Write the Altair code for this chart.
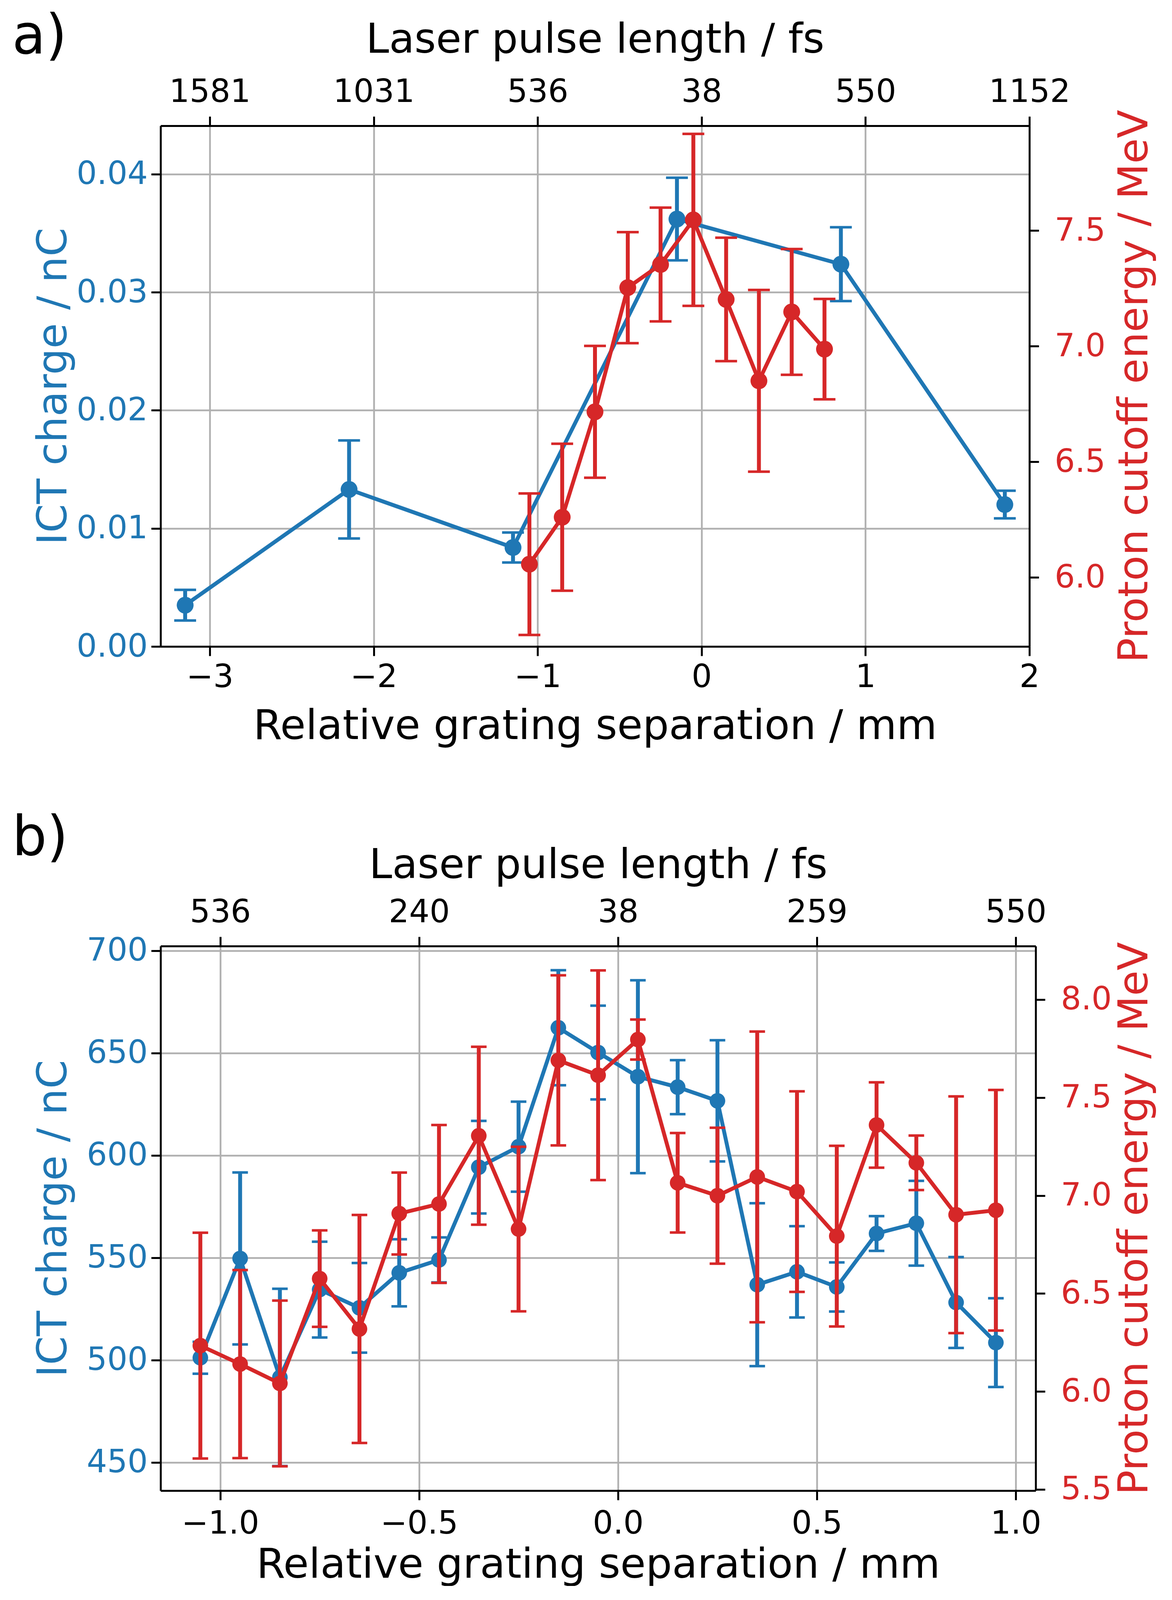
import altair as alt
import pandas as pd

# ---------------- data ----------------
# panel a)
A_BLUE_X = [-3.15, -2.15, -1.15, -0.15, 0.85, 1.85]
A_BLUE_Y = [0.00350, 0.01330, 0.00838, 0.03620, 0.03238, 0.01202]
A_BLUE_ERR = [0.00130, 0.00415, 0.00127, 0.00350, 0.00313, 0.00117]

A_RED_X = [-1.05, -0.85, -0.65, -0.45, -0.25, -0.05, 0.15, 0.35, 0.55, 0.75]
A_RED_Y = [6.057, 6.260, 6.716, 7.253, 7.353, 7.546, 7.202, 6.850, 7.148, 6.987]
A_RED_ERR = [0.306, 0.318, 0.285, 0.240, 0.246, 0.372, 0.267, 0.393, 0.272, 0.217]

A_BOTTOM_TICKS = [-3, -2, -1, 0, 1, 2]
A_TOP_TICKS = [-3, -2, -1, 0, 1, 2]
A_TOP_LABELS = ["1581", "1031", "536", "38", "550", "1152"]
A_LEFT_TICKS = [0.0, 0.01, 0.02, 0.03, 0.04]
A_RIGHT_TICKS = [6.0, 6.5, 7.0, 7.5]

# panel b)
B_X = [-1.05, -0.95, -0.85, -0.75, -0.65, -0.55, -0.45, -0.35, -0.25, -0.15, -0.05,
       0.05, 0.15, 0.25, 0.35, 0.45, 0.55, 0.65, 0.75, 0.85, 0.95]
B_BLUE_Y = [501.1, 549.6, 491.5, 534.4, 525.5, 542.6, 548.9, 594.2, 604.2, 662.3, 650.2,
            638.4, 633.3, 626.6, 536.8, 543.1, 535.7, 561.8, 566.8, 528.1, 508.5]
B_BLUE_ERR = [7.8, 42.0, 43.3, 23.4, 21.9, 16.4, 11.0, 22.6, 22.0, 28.1, 22.9,
              47.1, 13.2, 29.6, 39.8, 22.3, 12.0, 8.5, 20.7, 22.2, 21.7]
B_RED_Y = [6.234, 6.140, 6.041, 6.576, 6.319, 6.908, 6.957, 7.305, 6.829, 7.690, 7.614,
           7.796, 7.065, 6.999, 7.095, 7.020, 6.793, 7.360, 7.167, 6.902, 6.925]
B_RED_ERR = [0.576, 0.480, 0.423, 0.246, 0.582, 0.209, 0.403, 0.454, 0.420, 0.434, 0.535,
             0.102, 0.254, 0.347, 0.742, 0.512, 0.461, 0.218, 0.139, 0.604, 0.614]

B_BOTTOM_TICKS = [-1.0, -0.5, 0.0, 0.5, 1.0]
B_TOP_TICKS = [-1.0, -0.5, 0.0, 0.5, 1.0]
B_TOP_LABELS = ["536", "240", "38", "259", "550"]
B_LEFT_TICKS = [450, 500, 550, 600, 650, 700]
B_RIGHT_TICKS = [5.5, 6.0, 6.5, 7.0, 7.5, 8.0]

# ---------------- styling ----------------
BLUE = "#1f77b4"
RED = "#d62728"
FONT = "DejaVu Sans"


def frame(xs, ys, errs):
    return pd.DataFrame({
        "x": xs,
        "y": ys,
        "lo": [y - e for y, e in zip(ys, errs)],
        "hi": [y + e for y, e in zip(ys, errs)],
    })


def label_expr(ticks, labels):
    expr = "''"
    for t, l in reversed(list(zip(ticks, labels))):
        expr = f"abs(datum.value - ({t})) < 1e-6 ? '{l}' : {expr}"
    return expr


def series(df, color, xdom, ydom, xaxis, yaxis, cap, msize):
    base = alt.Chart(df)

    def X(axis):
        return alt.X("x:Q", scale=alt.Scale(domain=xdom, nice=False, zero=False), axis=axis)

    def Y(field, axis):
        return alt.Y(field, scale=alt.Scale(domain=ydom, nice=False, zero=False), axis=axis)

    line = base.mark_line(color=color, strokeWidth=10).encode(x=X(xaxis), y=Y("y:Q", yaxis))
    bars = base.mark_rule(color=color, strokeWidth=10).encode(
        x=X(None), y=Y("lo:Q", None), y2="hi:Q")
    cap_lo = base.mark_tick(color=color, orient="horizontal", size=cap,
                            thickness=6.5, opacity=1).encode(x=X(None), y=Y("lo:Q", None))
    cap_hi = base.mark_tick(color=color, orient="horizontal", size=cap,
                            thickness=6.5, opacity=1).encode(x=X(None), y=Y("hi:Q", None))
    pts = base.mark_circle(color=color, size=msize, opacity=1).encode(
        x=X(None), y=Y("y:Q", None))
    return [line, bars, cap_lo, cap_hi, pts]


def panel(label, blue_df, red_df, xdom, yldom, yrdom,
          bottom_ticks, bottom_fmt, top_ticks, top_labels,
          left_ticks, left_fmt, right_ticks, right_fmt,
          width, height, cap, msize,
          top_lpad, top_title_y, bot_lpad, bot_title_y, right_title_x, title_dy):
    bottom_axis = alt.Axis(orient="bottom", values=bottom_ticks, format=bottom_fmt,
                           title="Relative grating separation / mm", grid=True,
                           labelColor="black", titleColor="black",
                           labelPadding=bot_lpad, titleY=bot_title_y,
                           titleBaseline="alphabetic")
    top_axis = alt.Axis(orient="top", values=top_ticks,
                        labelExpr=label_expr(top_ticks, top_labels),
                        title="Laser pulse length / fs", grid=False,
                        labelColor="black", titleColor="black",
                        labelPadding=top_lpad, titleY=top_title_y,
                        titleBaseline="alphabetic")
    left_axis = alt.Axis(orient="left", values=left_ticks, format=left_fmt,
                         title="ICT charge / nC", grid=True,
                         labelColor=BLUE, titleColor=BLUE,
                         labelPadding=9, titleX=-242, titleAngle=270,
                         titleBaseline="alphabetic")
    right_axis = alt.Axis(orient="right", values=right_ticks, format=right_fmt,
                          title="Proton cutoff energy / MeV", grid=False,
                          labelColor=RED, titleColor=RED,
                          labelPadding=40, titleX=right_title_x, titleAngle=270,
                          titleBaseline="alphabetic")

    blue = series(blue_df, BLUE, xdom, yldom, bottom_axis, left_axis, cap, msize)
    red = series(red_df, RED, xdom, yrdom, top_axis, right_axis, cap, msize)

    return alt.layer(*blue, *red).resolve_scale(x="independent", y="independent").resolve_axis(
        x="independent", y="independent").properties(
        width=width, height=height,
        title=alt.TitleParams(label, anchor="start", frame="group", fontSize=140,
                              font=FONT, fontWeight="normal", color="black",
                              offset=0, dx=-380, dy=title_dy))


panel_a = panel("a)", frame(A_BLUE_X, A_BLUE_Y, A_BLUE_ERR), frame(A_RED_X, A_RED_Y, A_RED_ERR),
                [-3.3, 2.0], [0.0, 0.0441], [5.701, 7.953],
                A_BOTTOM_TICKS, "d", A_TOP_TICKS, A_TOP_LABELS,
                A_LEFT_TICKS, ".2f", A_RIGHT_TICKS, ".1f",
                2224, 1333, 56, 1860,
                21, -188, 14, 236, 301, 117.2)

panel_b = panel("b)", frame(B_X, B_BLUE_Y, B_BLUE_ERR), frame(B_X, B_RED_Y, B_RED_ERR),
                [-1.15, 1.05], [436.2, 702.2], [5.494, 8.273],
                B_BOTTOM_TICKS, ".1f", B_TOP_TICKS, B_TOP_LABELS,
                B_LEFT_TICKS, "d", B_RIGHT_TICKS, ".1f",
                2240, 1394, 40, 1600,
                21, -175, 20, 222, 285, 55.6)

chart = alt.vconcat(panel_a, panel_b, spacing=163).properties(
    padding={"left": 22, "top": 16, "right": 10, "bottom": 0},
    background="white",
).configure_view(
    stroke="transparent"
).configure_axis(
    labelFont=FONT, titleFont=FONT, labelFontSize=82, titleFontSize=106,
    titleFontWeight="normal", tickSize=24, tickWidth=5, tickColor="black",
    domainColor="black", domainWidth=5, gridColor="#b0b0b0", gridWidth=4.5,
    labelFlush=False, labelOverlap=False, labelLimit=1000,
)

chart.save("out.html", embed_options={"renderer": "svg", "actions": False})
